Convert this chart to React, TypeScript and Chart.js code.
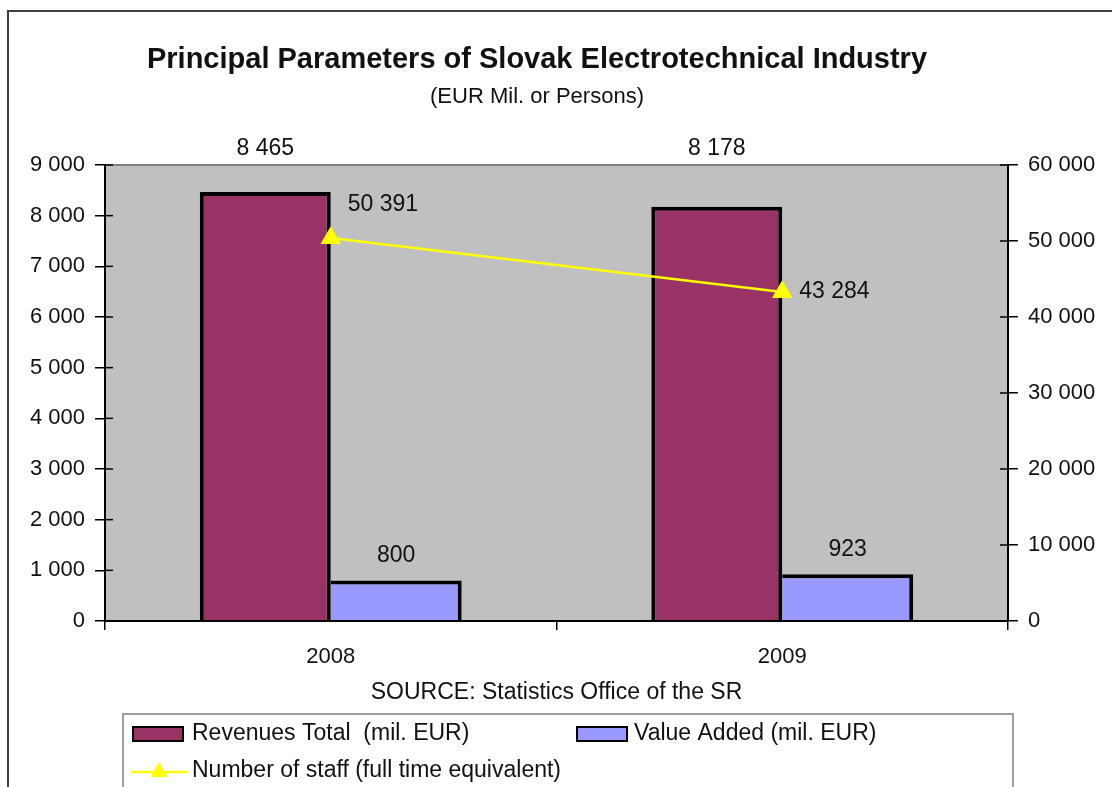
import React, { useEffect, useRef } from 'react';
import { Chart, registerables } from 'chart.js';

Chart.register(...registerables);

const categories = ['2008', '2009'];
const revenues = [8465, 8178];
const valueAdded = [800, 923];
const staff = [50391, 43284];
const leftTickValues = [0, 1000, 2000, 3000, 4000, 5000, 6000, 7000, 8000, 9000];
const rightTickValues = [0, 10000, 20000, 30000, 40000, 50000, 60000];
const seriesNames = [
  'Revenues Total  (mil. EUR)',
  'Value Added (mil. EUR)',
  'Number of staff (full time equivalent)',
];
const titleText = 'Principal Parameters of Slovak Electrotechnical Industry';
const subtitleText = '(EUR Mil. or Persons)';
const sourceText = 'SOURCE: Statistics Office of the SR';

const FONT = '"Liberation Sans", Arial, sans-serif';
const fmt = (v: number) => String(Math.round(v)).replace(/\B(?=(\d{3})+(?!\d))/g, ' ');

function drawTriangle(ctx: CanvasRenderingContext2D, x: number, y: number, r: number, color: string) {
  ctx.save();
  ctx.fillStyle = color;
  ctx.beginPath();
  let rad = 0;
  for (let i = 0; i < 3; i++) {
    const px = x + Math.sin(rad) * r;
    const py = y - Math.cos(rad) * r;
    if (i === 0) ctx.moveTo(px, py);
    else ctx.lineTo(px, py);
    rad += (2 * Math.PI) / 3;
  }
  ctx.closePath();
  ctx.fill();
  ctx.restore();
}

const decorPlugin = {
  id: 'decor',
  beforeDraw(chart: any) {
    const { ctx, chartArea: a, width, height } = chart;
    ctx.save();
    ctx.fillStyle = '#ffffff';
    ctx.fillRect(0, 0, width, height);
    // outer frame
    ctx.strokeStyle = '#404040';
    ctx.lineWidth = 2;
    ctx.beginPath();
    ctx.moveTo(8, height + 5);
    ctx.lineTo(8, 11);
    ctx.lineTo(width + 5, 11);
    ctx.stroke();
    // plot background
    ctx.fillStyle = '#C0C0C0';
    ctx.fillRect(a.left, a.top, a.right - a.left, a.bottom - a.top);
    ctx.strokeStyle = '#808080';
    ctx.lineWidth = 2;
    ctx.beginPath();
    ctx.moveTo(a.left, a.top);
    ctx.lineTo(a.right, a.top);
    ctx.stroke();
    ctx.restore();
  },
  afterDatasetsDraw(chart: any) {
    const { ctx, chartArea: a, scales } = chart;
    ctx.save();
    // redraw x axis line over bars
    ctx.strokeStyle = '#000';
    ctx.lineWidth = 2;
    ctx.beginPath();
    ctx.moveTo(a.left, a.bottom);
    ctx.lineTo(a.right, a.bottom);
    ctx.stroke();
    // inner parts of crossing tick marks
    ctx.lineWidth = 1.5;
    leftTickValues.forEach((v) => {
      const y = scales.y.getPixelForValue(v);
      ctx.beginPath();
      ctx.moveTo(a.left, y);
      ctx.lineTo(a.left + 8, y);
      ctx.stroke();
    });
    rightTickValues.forEach((v) => {
      const y = scales.y1.getPixelForValue(v);
      ctx.beginPath();
      ctx.moveTo(a.right - 8, y);
      ctx.lineTo(a.right, y);
      ctx.stroke();
    });

    ctx.fillStyle = '#111';
    ctx.font = `23px ${FONT}`;
    ctx.textBaseline = 'middle';
    const yMax = scales.y.max;
    // bar labels
    [0, 1].forEach((di) => {
      const meta = chart.getDatasetMeta(di);
      meta.data.forEach((el: any, j: number) => {
        const val = chart.data.datasets[di].data[j] as number;
        let y = el.y - 25;
        if (val > yMax * 0.8) y = a.top - 16;
        ctx.textAlign = 'center';
        ctx.fillText(fmt(val), el.x, y);
      });
    });
    // line labels
    const lmeta = chart.getDatasetMeta(2);
    lmeta.data.forEach((el: any, j: number) => {
      const val = chart.data.datasets[2].data[j];
      ctx.textAlign = 'left';
      const dy = j === 0 ? -33 : 0;
      ctx.fillText(fmt(val), el.x + 17, el.y + dy);
    });
    ctx.restore();
  },
  afterDraw(chart: any) {
    const { ctx, chartArea: a } = chart;
    const ds = chart.data.datasets;
    ctx.save();
    ctx.fillStyle = '#111';
    ctx.textBaseline = 'middle';
    ctx.textAlign = 'center';
    ctx.font = `bold 29px ${FONT}`;
    ctx.fillText(titleText, 537, 60);
    ctx.font = `22px ${FONT}`;
    ctx.fillText(subtitleText, 537, 97);
    ctx.font = `23px ${FONT}`;
    ctx.fillText(sourceText, (a.left + a.right) / 2, 693);

    // legend box
    ctx.strokeStyle = '#808080';
    ctx.lineWidth = 1.5;
    ctx.strokeRect(123, 714, 890, 120);
    ctx.textAlign = 'left';
    ctx.font = `23px ${FONT}`;
    // revenue
    ctx.fillStyle = ds[0].backgroundColor;
    ctx.fillRect(133, 727, 50, 14);
    ctx.strokeStyle = '#000';
    ctx.lineWidth = 2;
    ctx.strokeRect(133, 727, 50, 14);
    ctx.fillStyle = '#111';
    ctx.fillText(ds[0].label, 192, 734);
    // value added
    ctx.fillStyle = ds[1].backgroundColor;
    ctx.fillRect(577, 727, 50, 14);
    ctx.strokeRect(577, 727, 50, 14);
    ctx.fillStyle = '#111';
    ctx.fillText(ds[1].label, 634, 734);
    // staff
    ctx.strokeStyle = ds[2].borderColor;
    ctx.lineWidth = 2.5;
    ctx.beginPath();
    ctx.moveTo(131, 772);
    ctx.lineTo(187, 772);
    ctx.stroke();
    drawTriangle(ctx, 159, 772, 10, ds[2].borderColor);
    ctx.fillStyle = '#111';
    ctx.fillText(ds[2].label, 192, 771);
    ctx.restore();
  },
};

export default function App() {
  const ref = useRef<HTMLCanvasElement | null>(null);
  useEffect(() => {
    if (!ref.current) return;
    Chart.defaults.font.family = FONT;
    const tickFont = { size: 22, family: FONT };
    const chart = new Chart(ref.current, {
      type: 'bar',
      data: {
        labels: categories,
        datasets: [
          {
            type: 'bar',
            label: seriesNames[0],
            data: revenues,
            backgroundColor: '#993366',
            borderColor: '#000000',
            borderWidth: { top: 4, left: 4, right: 4, bottom: 0 },
            borderSkipped: false,
            yAxisID: 'y',
            order: 1,
          },
          {
            type: 'bar',
            label: seriesNames[1],
            data: valueAdded,
            backgroundColor: '#9999FF',
            borderColor: '#000000',
            borderWidth: { top: 4, left: 0, right: 4, bottom: 0 },
            borderSkipped: false,
            yAxisID: 'y',
            order: 1,
          },
          {
            type: 'line',
            label: seriesNames[2],
            data: staff,
            borderColor: '#FFFF00',
            backgroundColor: '#FFFF00',
            borderWidth: 2.5,
            pointStyle: 'triangle',
            pointRadius: 11,
            pointBackgroundColor: '#FFFF00',
            pointBorderColor: '#FFFF00',
            pointBorderWidth: 1,
            yAxisID: 'y1',
            order: 0,
          } as any,
        ],
      },
      options: {
        responsive: false,
        animation: false,
        events: [],
        datasets: { bar: { categoryPercentage: 0.58, barPercentage: 1.0 } } as any,
        layout: { padding: { left: 8, right: 0, top: 165, bottom: 116 } },
        plugins: {
          legend: { display: false },
          title: { display: false },
          tooltip: { enabled: false },
        },
        scales: {
          x: {
            offset: true,
            grid: { offset: true, drawOnChartArea: false, drawTicks: true, tickLength: 9, color: '#000', lineWidth: 1.5 },
            border: { color: '#000', width: 2 },
            ticks: { font: tickFont, color: '#111', padding: 14 },
            afterFit: (s: any) => { s.height = 50; },
          },
          y: {
            position: 'left',
            min: 0,
            max: 9000,
            afterBuildTicks: (s: any) => { s.ticks = leftTickValues.map((v) => ({ value: v })); },
            ticks: { font: tickFont, color: '#111', padding: 10, callback: (v: any) => fmt(Number(v)) },
            grid: { drawOnChartArea: false, drawTicks: true, tickLength: 10, color: '#000', lineWidth: 1.5 },
            border: { color: '#000', width: 2 },
            afterFit: (s: any) => { s.width = 97; },
          },
          y1: {
            position: 'right',
            min: 0,
            max: 60000,
            afterBuildTicks: (s: any) => { s.ticks = rightTickValues.map((v) => ({ value: v })); },
            ticks: { font: tickFont, color: '#111', padding: 10, callback: (v: any) => fmt(Number(v)) },
            grid: { drawOnChartArea: false, drawTicks: true, tickLength: 10, color: '#000', lineWidth: 1.5 },
            border: { color: '#000', width: 2 },
            afterFit: (s: any) => { s.width = 104; },
          },
        },
      } as any,
      plugins: [decorPlugin as any],
    });
    return () => chart.destroy();
  }, []);

  return (
    <div style={{ position: 'absolute', left: 0, top: 0, width: 1112, height: 787, overflow: 'hidden', background: '#fff' }}>
      <canvas ref={ref} width={1112} height={787} style={{ display: 'block' }} />
    </div>
  );
}
